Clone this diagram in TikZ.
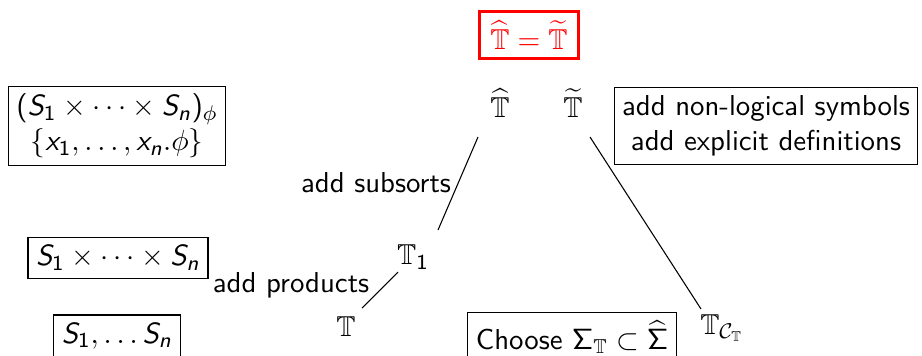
\documentclass[tikz,border=0pt]{standalone}
\usepackage{amssymb}
\usetikzlibrary{calc}
\renewcommand\familydefault{\sfdefault}
\SetSymbolFont{operators}{normal}{OT1}{cmss}{m}{n}
\DeclareSymbolFont{sfitletters}{OT1}{cmss}{m}{sl}
\DeclareMathSymbol{S}{\mathalpha}{sfitletters}{`S}
\DeclareMathSymbol{x}{\mathalpha}{sfitletters}{`x}
\DeclareMathSymbol{n}{\mathalpha}{sfitletters}{`n}
\begin{document}
\begin{tikzpicture}[x=0.375pt,y=-0.375pt,
  every node/.style={font=\fontsize{10.8}{13}\selectfont, inner sep=2pt},
  box/.style={draw, line width=0.4pt, inner sep=3pt},
  redbox/.style={draw=red, text=red, line width=0.9pt, inner xsep=4pt, inner ysep=3.5pt},
  conn/.style={line width=0.4pt}]
\useasboundingbox (0,0) rectangle (922,355);
\node[redbox] (top) at (529,35) {$\widehat{\mathbb{T}}=\widetilde{\mathbb{T}}$};
\node (hatT) at (500,103) {$\widehat{\mathbb{T}}$};
\node (tilT) at (573,103) {$\widetilde{\mathbb{T}}$};
\node[box, align=center] (phi) at (117,126) {$(S_1\times\cdots\times S_n)_\phi$\\$\{x_1,\ldots,x_n.\phi\}$};
\node[box, align=center] (add) at (766,126) {add non-logical symbols\\add explicit definitions};
\node (T1) at (413,257) {$\mathbb{T}_1$};
\node[box] (prod) at (118,258) {$S_1\times\cdots\times S_n$};
\node (T) at (346,327) {$\mathbb{T}$};
\node[box] (sorts) at (117,336) {$S_1,\ldots S_n$};
\node[box] (choose) at (572,337) {Choose $\Sigma_{\mathbb{T}}\subset\widehat{\Sigma}$};
\node (TC) at (722,328) {$\mathbb{T}_{\mathcal{C}_{\mathbb{T}}}$};
\coordinate (a1) at ($(hatT)+(-22,34)$);
\coordinate (b1) at ($(T1)+(25,-27)$);
\coordinate (a2) at ($(T1)+(-15,15)$);
\coordinate (b2) at ($(T)+(16,-19)$);
\coordinate (a3) at ($(tilT)+(17,34)$);
\coordinate (b3) at ($(TC)+(-21,-19)$);
\draw[conn] (a1) -- (b1);
\draw[conn] (a2) -- (b2);
\draw[conn] (a3) -- (b3);
\node (l1) at (376,183) {add subsorts};
\node (l2) at (291,285) {add products};
\end{tikzpicture}
\end{document}
